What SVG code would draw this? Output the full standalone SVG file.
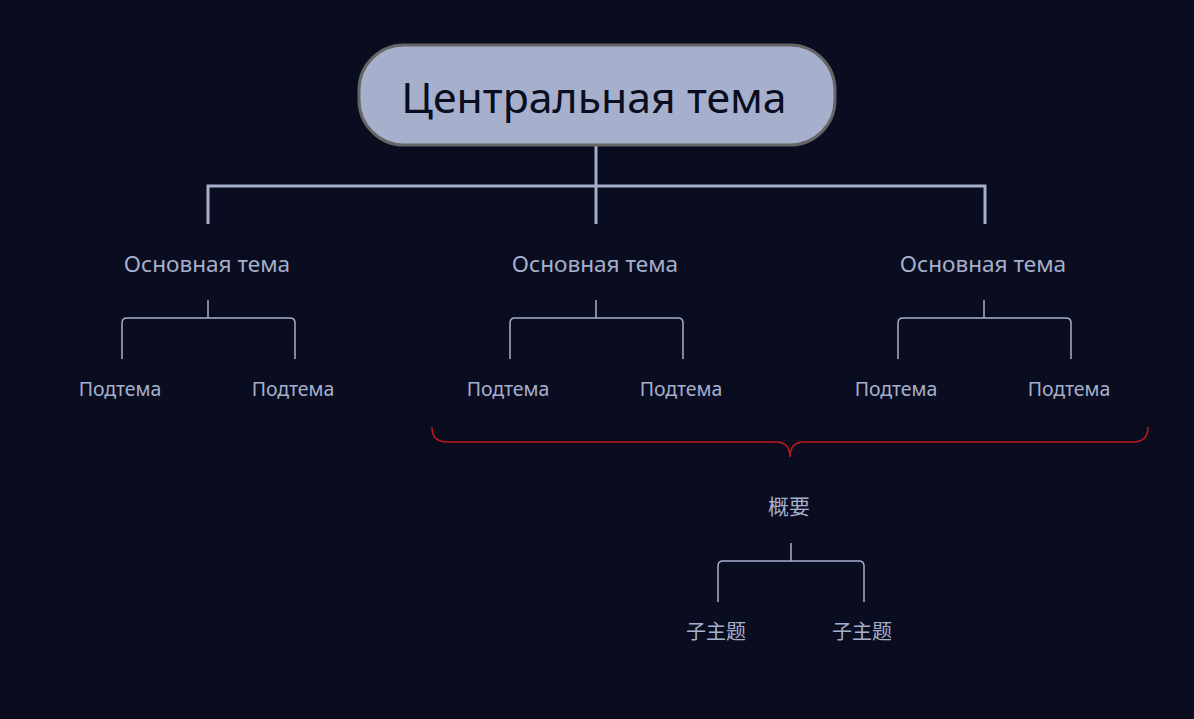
<svg xmlns="http://www.w3.org/2000/svg" width="1194" height="719" viewBox="0 0 1194 719">
<style>
.main{font-family:"Noto Sans","Open Sans",sans-serif;font-size:22.6px;fill:#a6b0cc;text-anchor:middle}
.sub{font-family:"Noto Sans","Open Sans",sans-serif;font-size:19.5px;fill:#a6b0cc;text-anchor:middle}
.cjk{font-family:"Noto Sans CJK SC",sans-serif;fill:#a6b0cc;text-anchor:middle}
.thick{fill:none;stroke:#a6b0cc;stroke-width:3}
.thin{fill:none;stroke:#a6b0cc;stroke-width:1.5}
</style>
<rect width="1194" height="719" fill="#0a0d20"/>
<g id="connectors">
<path class="thick" d="M596 145V224M208 224V186H985V224"/>
<path class="thin" d="M208 300V318M122 359V323Q122 318 127 318H290Q295 318 295 323V359"/>
<path class="thin" d="M596 300V318M510 359V323Q510 318 515 318H678Q683 318 683 323V359"/>
<path class="thin" d="M984 300V318M898 359V323Q898 318 903 318H1066Q1071 318 1071 323V359"/>
<path class="thin" d="M791 543V561M718 602V566Q718 561 723 561H859Q864 561 864 566V602"/>
</g>
<g id="summary-brace">
<path d="M432 427Q432 442 447 442H776Q790 442 790 457Q790 442 804 442H1133Q1148 442 1148 427" fill="none" stroke="#c0181c" stroke-width="1.5"/>
</g>
<g id="central">
<rect x="359" y="45" width="476" height="100" rx="45" fill="#a6b0cc" stroke="#666" stroke-width="3"/>
<text x="594" y="113" font-family="'Noto Sans','Open Sans',sans-serif" font-size="42.8" fill="#0a0d20" text-anchor="middle">Центральная тема</text>
</g>
<g id="main1"><text class="main" x="207" y="272">Основная тема</text></g>
<g id="main2"><text class="main" x="595" y="272">Основная тема</text></g>
<g id="main3"><text class="main" x="983" y="272">Основная тема</text></g>
<g id="sub1"><text class="sub" x="120" y="396">Подтема</text></g>
<g id="sub2"><text class="sub" x="293" y="396">Подтема</text></g>
<g id="sub3"><text class="sub" x="508" y="396">Подтема</text></g>
<g id="sub4"><text class="sub" x="681" y="396">Подтема</text></g>
<g id="sub5"><text class="sub" x="896" y="396">Подтема</text></g>
<g id="sub6"><text class="sub" x="1069" y="396">Подтема</text></g>
<g id="summary"><text class="cjk" x="789" y="514" font-size="21">概要</text></g>
<g id="csub1"><text class="cjk" x="716" y="639" font-size="20">子主题</text></g>
<g id="csub2"><text class="cjk" x="862" y="639" font-size="20">子主题</text></g>
</svg>
